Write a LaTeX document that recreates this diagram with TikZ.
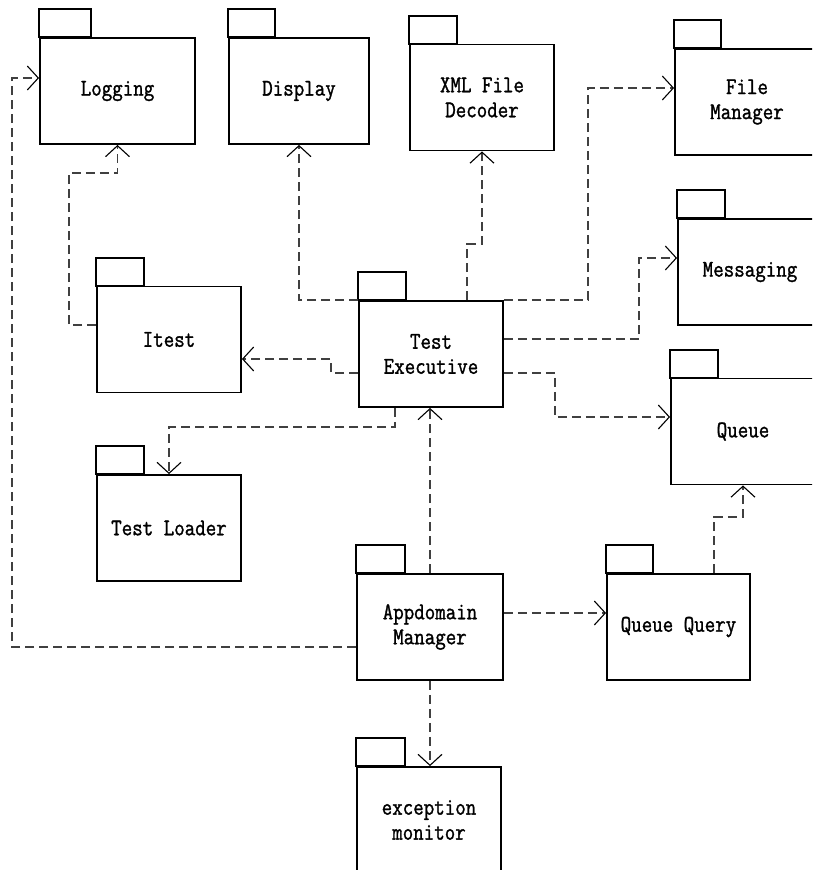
\documentclass[tikz,border=0pt]{standalone}
\usepackage{fontspec}
\newfontfamily\pkgfont{Latin Modern Mono}[FakeStretch=0.85, FakeBold=1.3]
\usetikzlibrary{arrows.meta}
\tikzset{
  pkg/.style={draw, line width=1.9pt, minimum width=144pt, minimum height=106pt,
    inner sep=0pt, align=center, font=\fontsize{24}{25}\selectfont\pkgfont},
  tabbox/.style={draw, line width=1.9pt},
  dep/.style={draw=black!75, line width=1.3pt, dash pattern=on 9pt off 5pt,
    -{Straight Barb[length=11pt,width=24pt,line width=1.1pt,color=black]}},
}
\begin{document}
\begin{tikzpicture}[x=1pt,y=-1pt]
\useasboundingbox (0,0) rectangle (812,870);
\begin{scope}
\clip (0,0) rectangle (812,870);
\node[pkg, minimum width=155pt] (logging) at (117.5,91) {Logging};
\node[pkg, minimum width=140pt] (display) at (299,91) {Display};
\node[pkg] (xml) at (482,97.5) {XML File\\Decoder};
\node[pkg] (filemgr) at (747,102) {File\\Manager};
\node[pkg] (messaging) at (750,272) {Messaging};
\node[pkg] (queue) at (743,431.5) {Queue};
\node[pkg] (texec) at (431,354) {Test\\Executive};
\node[pkg] (itest) at (169,339.5) {Itest};
\node[pkg] (tloader) at (169,528) {Test Loader};
\node[pkg, minimum width=146pt] (appdomain) at (430,627) {Appdomain\\Manager};
\node[pkg, minimum width=143pt] (qquery) at (678.5,627) {Queue Query};
\node[pkg] (exception) at (429,820) {exception\\monitor};

\draw[tabbox] (logging.north west) rectangle ++(52,-28);
\draw[tabbox] (display.north west) rectangle ++(47,-28);
\draw[tabbox] (xml.north west) rectangle ++(48,-28);
\draw[tabbox] (filemgr.north west) rectangle ++(47,-28);
\draw[tabbox] (messaging.north west) rectangle ++(48,-28);
\draw[tabbox] (queue.north west) rectangle ++(48,-28);
\draw[tabbox] (texec.north west) rectangle ++(48,-28);
\draw[tabbox] (itest.north west) rectangle ++(48,-28);
\draw[tabbox] (tloader.north west) rectangle ++(48,-28);
\draw[tabbox] (appdomain.north west) rectangle ++(49,-28);
\draw[tabbox] (qquery.north west) rectangle ++(47,-28);
\draw[tabbox] (exception.north west) rectangle ++(49,-28);

% connectors
\draw[dep] (itest.west |- 0,325) -| (69,173) -| (logging.south);
\draw[dep] (texec.north west) -| (display.south);
\draw[dep] (texec.north -| 467,0) -- (467,244) -| (xml.south);
\draw[dep] (texec.north east) -| (588,88) -- (filemgr.west |- 0,88);
\draw[dep] (texec.east |- 0,339) -| (639,258) -- (messaging.west |- 0,258);
\draw[dep] (texec.east |- 0,373) -| (555,417) -- (queue.west |- 0,417);
\draw[dep] (texec.west |- 0,373) -| (331,359) -- (itest.east |- 0,359);
\draw[dep] (texec.south -| 395,0) |- (169,427) -- (tloader.north);
\draw[dep] (appdomain.north) -- (appdomain.north |- texec.south);
\draw[dep] (appdomain.east |- 0,613) -- (qquery.west |- 0,613);
\draw[dep] (qquery.north -| 714,0) |- (743,517) -- (queue.south);
\draw[dep] (appdomain.south) -- (appdomain.south |- exception.north);
\draw[dep] (appdomain.west |- 0,647) -| (12,78) -- (logging.west |- 0,78);
\end{scope}
\end{tikzpicture}
\end{document}
